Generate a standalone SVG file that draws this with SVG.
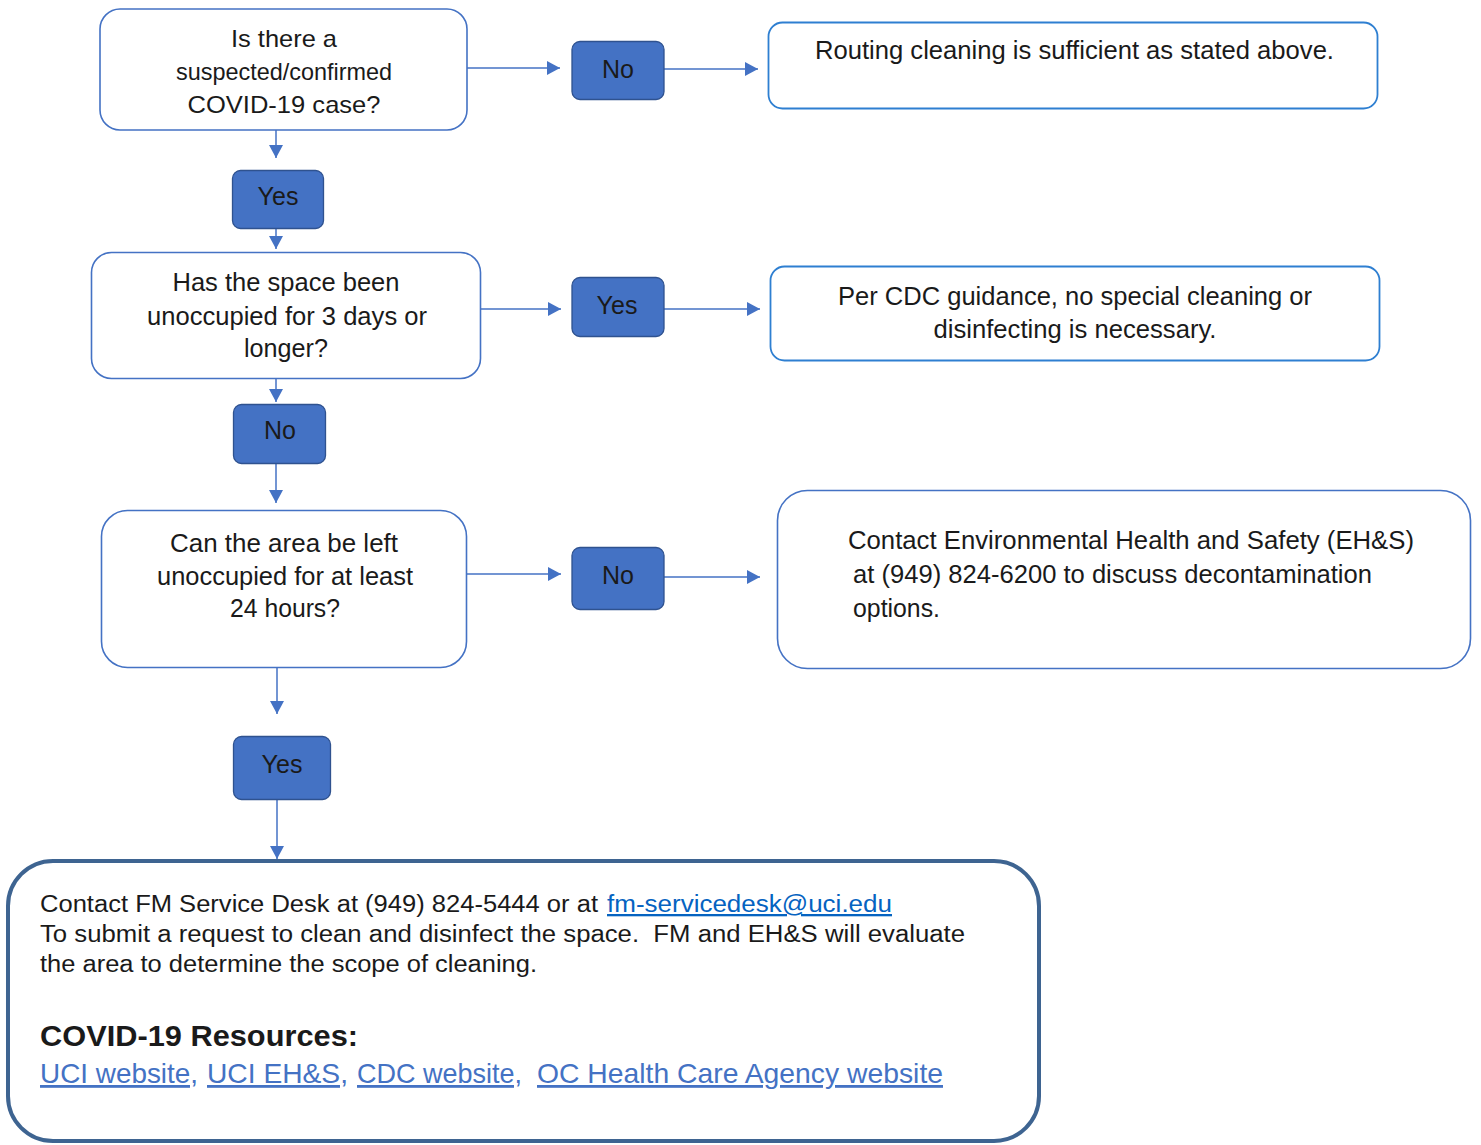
<svg xmlns="http://www.w3.org/2000/svg" width="1481" height="1145" viewBox="0 0 1481 1145">
<style>
  text { font-family: "Liberation Sans", Arial, sans-serif; fill: #1a1a1a; }
  .q { fill: #ffffff; stroke: #4472C4; stroke-width: 1.6; }
  .r { fill: #ffffff; stroke: #2E7FD1; stroke-width: 1.8; }
  .a { fill: #4472C4; stroke: #2F528F; stroke-width: 1.3; }
  .c { fill: none; stroke: #4472C4; stroke-width: 1.5; }
  .t24 { font-size: 24px; }
  .t25 { font-size: 25px; }
  .mid { text-anchor: middle; }
  .b23 { font-size: 23px; }
  .link1 { fill: #0563C1; text-decoration: underline; }
  .link2 { fill: #4472C4; text-decoration: underline; font-size: 28px; }
</style>
<defs>
  <marker id="ah" markerUnits="userSpaceOnUse" markerWidth="16" markerHeight="16" refX="13" refY="7" orient="auto">
    <path d="M0,0 L13,7 L0,14 Z" fill="#4472C4"/>
  </marker>
</defs>

<g id="connectors">
  <line class="c" x1="467" y1="68" x2="560" y2="68" marker-end="url(#ah)"/>
  <line class="c" x1="664" y1="69" x2="758" y2="69" marker-end="url(#ah)"/>
  <line class="c" x1="276" y1="130" x2="276" y2="158" marker-end="url(#ah)"/>
  <line class="c" x1="276" y1="229" x2="276" y2="249" marker-end="url(#ah)"/>
  <line class="c" x1="481" y1="309" x2="561" y2="309" marker-end="url(#ah)"/>
  <line class="c" x1="664" y1="309" x2="760" y2="309" marker-end="url(#ah)"/>
  <line class="c" x1="276" y1="379" x2="276" y2="402" marker-end="url(#ah)"/>
  <line class="c" x1="276" y1="464" x2="276" y2="503" marker-end="url(#ah)"/>
  <line class="c" x1="467" y1="574" x2="561" y2="574" marker-end="url(#ah)"/>
  <line class="c" x1="664" y1="577" x2="760" y2="577" marker-end="url(#ah)"/>
  <line class="c" x1="277" y1="668" x2="277" y2="714" marker-end="url(#ah)"/>
  <line class="c" x1="277" y1="800" x2="277" y2="859" marker-end="url(#ah)"/>
</g>

<g id="q1">
  <rect class="q" x="100" y="9" width="367" height="121" rx="20"/>
  <text class="t24 mid" x="284" y="47" textLength="106" lengthAdjust="spacingAndGlyphs">Is there a</text>
  <text class="t24 mid" x="284" y="80" textLength="216" lengthAdjust="spacingAndGlyphs">suspected/confirmed</text>
  <text class="t24 mid" x="284" y="113" textLength="193" lengthAdjust="spacingAndGlyphs">COVID-19 case?</text>
</g>

<g id="no1">
  <rect class="a" x="572" y="41.5" width="92" height="58" rx="8"/>
  <text class="t25 mid" x="618" y="78">No</text>
</g>

<g id="routine">
  <rect class="r" x="768.5" y="22.5" width="609" height="86" rx="14"/>
  <text class="t25" x="815" y="59" textLength="519" lengthAdjust="spacingAndGlyphs">Routing cleaning is sufficient as stated above.</text>
</g>

<g id="yes1">
  <rect class="a" x="232.5" y="170.5" width="91" height="58" rx="8"/>
  <text class="t25 mid" x="278" y="205">Yes</text>
</g>

<g id="q2">
  <rect class="q" x="91.5" y="252.5" width="389" height="126" rx="20"/>
  <text class="t25 mid" x="286" y="291" textLength="227" lengthAdjust="spacingAndGlyphs">Has the space been</text>
  <text class="t25 mid" x="287" y="325" textLength="280" lengthAdjust="spacingAndGlyphs">unoccupied for 3 days or</text>
  <text class="t25 mid" x="286" y="357" textLength="84" lengthAdjust="spacingAndGlyphs">longer?</text>
</g>

<g id="yes2">
  <rect class="a" x="572" y="277.5" width="92" height="59" rx="8"/>
  <text class="t25 mid" x="617" y="314">Yes</text>
</g>

<g id="cdc">
  <rect class="r" x="770.5" y="266.5" width="609" height="94" rx="14"/>
  <text class="t25 mid" x="1075" y="305" textLength="474" lengthAdjust="spacingAndGlyphs">Per CDC guidance, no special cleaning or</text>
  <text class="t25 mid" x="1075" y="338" textLength="283" lengthAdjust="spacingAndGlyphs">disinfecting is necessary.</text>
</g>

<g id="no2">
  <rect class="a" x="233.5" y="404.5" width="92" height="59" rx="8"/>
  <text class="t25 mid" x="280" y="439">No</text>
</g>

<g id="q3">
  <rect class="q" x="101.5" y="510.5" width="365" height="157" rx="26"/>
  <text class="t25 mid" x="284" y="552" textLength="228" lengthAdjust="spacingAndGlyphs">Can the area be left</text>
  <text class="t25 mid" x="285" y="585" textLength="256" lengthAdjust="spacingAndGlyphs">unoccupied for at least</text>
  <text class="t25 mid" x="285" y="617" textLength="110" lengthAdjust="spacingAndGlyphs">24 hours?</text>
</g>

<g id="no3">
  <rect class="a" x="572" y="547.5" width="92" height="62" rx="8"/>
  <text class="t25 mid" x="618" y="584">No</text>
</g>

<g id="ehs">
  <rect class="q" x="777.5" y="490.5" width="693" height="178" rx="30"/>
  <text class="t25" x="848" y="549" textLength="566" lengthAdjust="spacingAndGlyphs">Contact Environmental Health and Safety (EH&amp;S)</text>
  <text class="t25" x="853" y="583" textLength="519" lengthAdjust="spacingAndGlyphs">at (949) 824-6200 to discuss decontamination</text>
  <text class="t25" x="853" y="617" textLength="87" lengthAdjust="spacingAndGlyphs">options.</text>
</g>

<g id="yes3">
  <rect class="a" x="233.5" y="736.5" width="97" height="63" rx="8"/>
  <text class="t25 mid" x="282" y="773">Yes</text>
</g>

<g id="contact">
  <rect x="8" y="861" width="1031" height="280" rx="45" fill="#ffffff" stroke="#3E6491" stroke-width="4"/>
  <text class="b23" x="40" y="912" textLength="558" lengthAdjust="spacingAndGlyphs">Contact FM Service Desk at (949) 824-5444 or at</text>
  <text class="b23 link1" x="607" y="912" textLength="285" lengthAdjust="spacingAndGlyphs">fm-servicedesk@uci.edu</text>
  <text class="b23" x="40" y="942" textLength="925" lengthAdjust="spacingAndGlyphs" xml:space="preserve">To submit a request to clean and disinfect the space.  FM and EH&amp;S will evaluate</text>
  <text class="b23" x="40" y="972" textLength="497" lengthAdjust="spacingAndGlyphs">the area to determine the scope of cleaning.</text>
  <text x="40" y="1046" font-size="29" font-weight="bold" fill="#000" textLength="318" lengthAdjust="spacingAndGlyphs">COVID-19 Resources:</text>
  <text class="link2" x="40" y="1083" textLength="158" lengthAdjust="spacingAndGlyphs">UCI website,</text>
  <text class="link2" x="207" y="1083" textLength="141" lengthAdjust="spacingAndGlyphs">UCI EH&amp;S,</text>
  <text class="link2" x="357" y="1083" textLength="165" lengthAdjust="spacingAndGlyphs">CDC website,</text>
  <text class="link2" x="537" y="1083" textLength="406" lengthAdjust="spacingAndGlyphs">OC Health Care Agency website</text>
</g>
</svg>
